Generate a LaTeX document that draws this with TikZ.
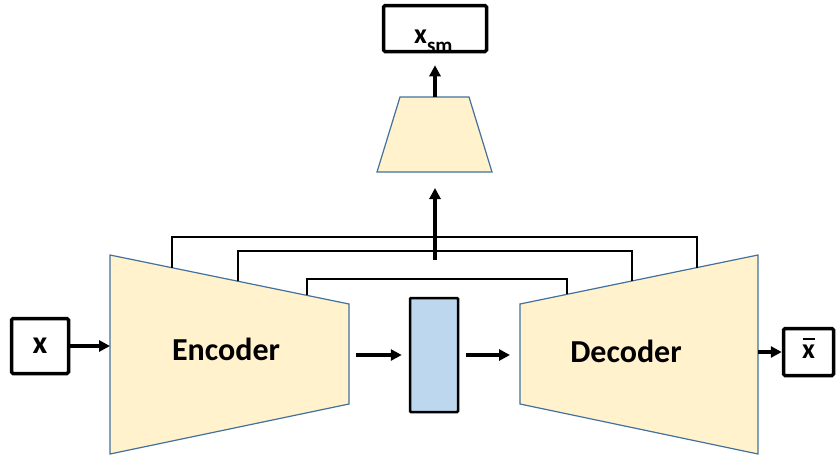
\documentclass[tikz,border=0pt]{standalone}
\usepackage{fontspec}
\setmainfont{Carlito}
\usetikzlibrary{arrows.meta}
\definecolor{blockfill}{HTML}{FFF2CC}
\definecolor{blockline}{HTML}{41719C}
\definecolor{latentfill}{HTML}{BDD7EE}
\newcommand{\xbar}{\ooalign{x\cr\hidewidth\rule[18.5pt]{12pt}{2.2pt}\hidewidth\cr}}
\begin{document}
\begin{tikzpicture}[x=1pt,y=-1pt,
	box/.style={draw,line width=3.5pt,rounded corners=1.5pt,inner sep=0pt,font=\bfseries\fontsize{28}{28}\selectfont},
	arr/.style={-{Triangle[length=11pt,width=11pt]},line width=3.5pt},
	skip/.style={line width=2.5pt},
	block/.style={fill=blockfill,draw=blockline,line width=1.2pt},
	label/.style={font=\bfseries\fontsize{32}{32}\selectfont}]
		\useasboundingbox (0,0) rectangle (838,458);
		% Autoencoder with skip connections
		\path[block] (110,255) -- (349,304) -- (349,404) -- (110,454) -- cycle;
		\path[block] (520,304) -- (758,255) -- (758,454) -- (520,404) -- cycle;
		\path[block] (400,97) -- (469,97) -- (492,172) -- (377,172) -- cycle;
		\node[label] (Encoder) at (226,349) {Encoder};
		\node[label] (Decoder) at (626,351) {Decoder};

		\node[box,minimum width=57pt,minimum height=55pt,font=\bfseries\fontsize{32}{32}\selectfont] (Input) at (40,346) {x};
		\node[box,minimum width=50pt,minimum height=47pt] (Output) at (808.5,352) {\xbar};
		\node[box,minimum width=103pt,minimum height=46pt] (Xsm) at (435,28.5) {};
		\node[anchor=base west,font=\bfseries\fontsize{28}{28}\selectfont,inner sep=0pt] (XsmText) at (414,43) {x\raisebox{-9pt}{\fontsize{21}{21}\selectfont sm}};
		\node[draw,fill=latentfill,line width=2.5pt,rounded corners=1pt,minimum width=48pt,minimum height=114pt] (Latent) at (434,355) {};

		\coordinate (EncIn) at (110,346);
		\coordinate (EncOut) at (356,355);
		\coordinate (DecIn) at (520,355);
		\coordinate (DecOut) at (758,352);
		\coordinate (HeadIn) at (435,172);
		\coordinate (HeadOut) at (435,97);
		\coordinate (Merge) at (435,260);

		\draw[arr] (Input.east) to (EncIn);
		\draw[arr,shorten >=7pt] (EncOut) to (Latent.west);
		\draw[arr,shorten <=7pt,shorten >=10pt] (Latent.east) to (DecIn);
		\draw[arr] (DecOut) to (Output.west);
		\draw[arr,shorten >=16pt] (Merge) to (HeadIn);
		\draw[arr,shorten >=12pt] (HeadOut) to (Xsm.south);

		\draw[skip] (172,268) |- (697,237) -- (697,268);
		\draw[skip] (238,281) |- (632,251) -- (632,281);
		\draw[skip] (307,295) |- (567,279) -- (567,294);
		\end{tikzpicture}
\end{document}
